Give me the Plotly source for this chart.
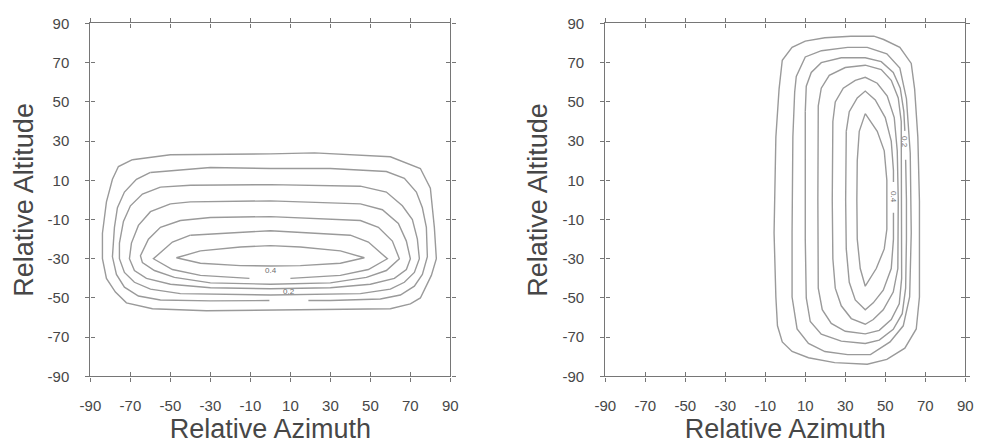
import plotly.graph_objects as go

# ---------------- data ----------------
TICKS = [-90, -70, -50, -30, -10, 10, 30, 50, 70, 90]
TICK_LABELS = ["-90", "-70", "-50", "-30", "-10", "10", "30", "50", "70", "90"]

# Left panel contours (azimuth, altitude), outer -> inner; None = label gap
L1_AZ = [-69, -50, 0, 22, 60, 75, 80, 82, 83, 80.5, 75, 70, 60, 18, -32, -59, -72, -77.5, -82, -84, -84, -82, -79, -76]
L1_ALT = [20.5, 23, 23.5, 24, 22, 16, 6, -14, -30, -38.5, -50, -53, -55.5, -56, -56.5, -55.5, -52.5, -47, -40, -30, -17, -1, 10.5, 17]
L2_AZ = [-60, -30, 0, 30, 58, 67, 73, 76, 78, 78.5, 76, 72, 65, 55, 30, 19, None, -0.5, -30, -55, -66, -73, -77, -79, -78, -76.5, -73, -67]
L2_ALT = [14, 16.5, 16, 16, 14.5, 11, 4, -4, -14, -29, -38, -44, -48.5, -50.5, -51.3, -51.3, None, -51.3, -51.5, -51, -49, -44.5, -38, -29, -14, -4, 4, 10.5]
L3_AZ = [-55, -40, 0, 45, 58, 66, 71, 73.5, 74.5, 72, 67, 60, 45, 0, -45, -60, -68, -73, -75.5, -75.5, -73.5, -70, -64]
L3_ALT = [6.5, 7.5, 7.8, 7, 4, -3, -10, -20, -30, -37, -42, -45.5, -47.8, -48.5, -47.8, -45.5, -42, -37, -30, -22, -11, -3, 3]
L4_AZ = [-50, -40, 0, 45, 56, 64, 68, 70, 68, 62, 50, 30, 0, -30, -50, -62, -68, -70.5, -69.5, -66, -60]
L4_ALT = [-2, -1, -0.5, -2, -5, -12, -21, -30, -35.5, -40, -43, -44.8, -45.3, -44.8, -43, -40, -36, -30, -22, -13, -6]
L5_AZ = [-45, -30, 0, 45, 54, 61, 64.5, 58, 48, 30, 0, -30, -48, -58, -64, -65, -61, -55]
L5_ALT = [-10.5, -9, -8.5, -10.5, -14, -21, -30, -36, -39.5, -42.3, -43, -42.3, -39.5, -36, -32, -28.5, -20, -14]
L6_AZ = [-40, 0, 40, 49, 58.5, 49, 35, 10, None, -10.5, -35, -49, -58.5, -49]
L6_ALT = [-18, -15.7, -18, -21.5, -30, -35.5, -38.5, -40, None, -40, -38.5, -35.5, -30, -21.5]
L7_AZ = [-35, -15, 0, 15, 35, 47, 35, 15, 0, -15, -35, -47]
L7_ALT = [-26, -24, -23.3, -24, -26, -29.5, -32.3, -33.5, -33.7, -33.5, -32.3, -29.5]

# Right panel contours
R1_AZ = [-3.1, -1.5, 3.4, 10, 19.8, 32.8, 44.3, 49.2, 57.3, 63, 64.7, 66.3, 67.1, 67.1, 65.5, 59.8, 50.8, 41, 24.7, 11.6, 3.4, -1.5, -3.9, -4.7, -5.6, -4.7]
R1_ALT = [56.5, 71.2, 77.8, 81, 82.7, 83.5, 83.5, 81.8, 77.8, 69.6, 56.5, 32, -0.6, -49.5, -65.8, -75.6, -81.3, -83.8, -83, -80.5, -77.3, -72.4, -64.2, -49.5, -16.9, 32.1]
R2_AZ = [4.7, 5.5, 10, 18.1, 31.2, 41, 50.8, 57.3, 60.6, 62.5, 63, 62.2, 59, 52.4, 42.6, 31.2, 19.8, 11.6, 5.9, 3.4, 3.4, 3.8]
R2_ALT = [54.9, 63, 72.9, 76.1, 77.8, 77.8, 74.5, 67.2, 51.6, 23.9, -16.9, -49.5, -64.2, -72.4, -78.9, -78.9, -77.3, -73.2, -65.8, -49.5, -16.9, 32.1]
R3_AZ = [10, 10.5, 13, 18, 28, 40, 48, 54, 57.5, 59.3, 59.8, None, 60.2, 60.6, 60.6, 60.2, 58.5, 54, 47, 40, 28, 18, 12.5, 10.5, 10, 10]
R3_ALT = [45, 58, 65, 70, 72.5, 72.5, 70.5, 65, 57, 45, 35.2, None, 20.5, 0, -20, -45, -58, -66, -71.5, -73.2, -72, -68.5, -62, -50, -20, 20]
R4_AZ = [16.5, 18, 22, 30, 40, 48, 53, 56.5, 58, 58.2, 58.2, 57, 53, 47, 40, 30, 23, 18.5, 16.5, 16.3]
R4_ALT = [48, 57, 63.5, 67.5, 68.7, 66.5, 61, 52, 40, 0, -40, -53, -61, -66.5, -68.3, -67, -63, -56, -45, 0]
R5_AZ = [23.8, 25, 29, 35, 40, 46, 51, 54.5, 56, 56.5, 56.3, 54, 49, 44, 40, 33, 28, 25, 23.8, 23.5]
R5_ALT = [40, 50, 57, 61, 62.5, 59.5, 53, 42, 25, 0, -35, -47, -56, -61, -63.4, -60.5, -54, -45, -30, 0]
R6_AZ = [30.5, 32, 36, 40, 45, 50, 53, 54.1, 54.1, None, 54.1, 54.1, 53, 49, 44, 40, 35, 32, 30.5, 30.2]
R6_ALT = [35, 45, 52, 55.5, 51, 42, 30, 15, 9.1, None, -6.5, -20, -35, -46, -52.5, -56, -51, -42, -25, 0]
R7_AZ = [40, 46, 49.5, 50.8, 50.8, 49.5, 45.5, 40, 37.5, 36, 35.8, 36, 37]
R7_ALT = [44, 35, 25, 10, -15, -25, -35, -44, -35, -20, 0, 20, 35]

# Contour labels
L_LABEL_TEXT = ["0.4", "0.2"]
L_LABEL_AZ = [0.5, 9.5]
L_LABEL_ALT = [-36, -46.8]
R_LABEL_TEXT = ["0.2", "0.4"]
R_LABEL_AZ = [59.3, 54.1]
R_LABEL_ALT = [29.6, 1.2]

LEFT = [(L1_AZ, L1_ALT), (L2_AZ, L2_ALT), (L3_AZ, L3_ALT), (L4_AZ, L4_ALT),
        (L5_AZ, L5_ALT), (L6_AZ, L6_ALT), (L7_AZ, L7_ALT)]
RIGHT = [(R1_AZ, R1_ALT), (R2_AZ, R2_ALT), (R3_AZ, R3_ALT), (R4_AZ, R4_ALT),
         (R5_AZ, R5_ALT), (R6_AZ, R6_ALT), (R7_AZ, R7_ALT)]

# ---------------- styles ----------------
AXC = "#767676"
TXC = "#474747"
LINEC = "#9a9a9a"
FONT = "Liberation Sans, Arial, sans-serif"
W, H = 985, 445
XDOM = [[81 / W, 448 / W], [606 / W, 973 / W]]
YDOM = [1 - 382 / H, 1 - 15 / H]

fig = go.Figure()


def closed(xs, ys):
    return list(xs) + [xs[0]], list(ys) + [ys[0]]


for p, contours in enumerate([LEFT, RIGHT], start=1):
    xa = "x" if p == 1 else "x2"
    ya = "y" if p == 1 else "y2"
    for xs, ys in contours:
        cx, cy = closed(xs, ys)
        fig.add_trace(go.Scatter(x=cx, y=cy, mode="lines", xaxis=xa, yaxis=ya,
                                 line=dict(color=LINEC, width=1.4), hoverinfo="skip",
                                 showlegend=False, connectgaps=False))

# invisible traces so the overlay axes are drawn
for ov in (3, 4):
    fig.add_trace(go.Scatter(x=[0], y=[0], mode="markers", marker=dict(opacity=0),
                             xaxis=f"x{ov}", yaxis=f"y{ov}", showlegend=False, hoverinfo="skip"))

for t, ax, al in zip(L_LABEL_TEXT, L_LABEL_AZ, L_LABEL_ALT):
    fig.add_annotation(x=ax, y=al, xref="x", yref="y", text=t, showarrow=False,
                       font=dict(family=FONT, size=8, color="#6e6e6e"))
for t, ax, al in zip(R_LABEL_TEXT, R_LABEL_AZ, R_LABEL_ALT):
    fig.add_annotation(x=ax, y=al, xref="x2", yref="y2", text=t, showarrow=False, textangle=90,
                       font=dict(family=FONT, size=8, color="#6e6e6e"))

base = dict(range=[-90, 90], tickmode="array", tickvals=TICKS, ticktext=TICK_LABELS,
            ticklen=4, tickwidth=1.4, tickcolor=AXC, showline=True, linecolor=AXC,
            linewidth=1.4, mirror="ticks", showgrid=False, zeroline=False,
            tickfont=dict(family=FONT, size=15, color=TXC))

title_font = dict(family=FONT, size=27, color=TXC)
layout = dict(width=W, height=H, margin=dict(l=0, r=0, t=0, b=0), autosize=False,
              paper_bgcolor="white", plot_bgcolor="white", showlegend=False)

for p in (1, 2):
    sx = "" if p == 1 else "2"
    layout[f"xaxis{sx}"] = dict(base, domain=XDOM[p - 1], anchor=f"y{sx}", ticks="outside",
                                ticklabelstandoff=11,
                                title=dict(text="Relative Azimuth", font=title_font, standoff=5))
    layout[f"yaxis{sx}"] = dict(base, domain=YDOM, anchor=f"x{sx}", ticks="outside",
                                ticklabelstandoff=13,
                                title=dict(text="Relative Altitude", font=title_font, standoff=6))
    ov = p + 2
    layout[f"xaxis{ov}"] = dict(base, overlaying=f"x{sx}", anchor=f"y{ov}", ticks="inside",
                                showticklabels=False, side="bottom")
    layout[f"yaxis{ov}"] = dict(base, overlaying=f"y{sx}", anchor=f"x{ov}", ticks="inside",
                                showticklabels=False, side="left")

fig.update_layout(**layout)
fig.write_html("out.html")
